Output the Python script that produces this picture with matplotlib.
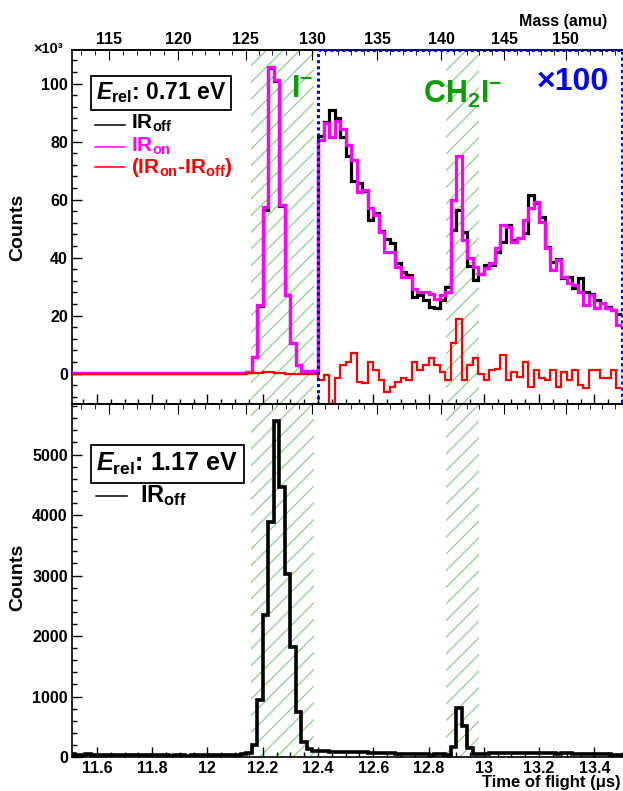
"""
Two-panel ToF mass spectrum (ROOT-style look), E_rel = 0.71 eV and 1.17 eV.
Top panel right of 12.40 us is shown x100.
"""

import matplotlib
matplotlib.use("Agg")
import matplotlib.pyplot as plt
import matplotlib.transforms as mtransforms
from matplotlib.lines import Line2D
from matplotlib.patches import Rectangle
from matplotlib.ticker import MultipleLocator, FuncFormatter
import numpy as np

plt.rcParams["font.family"] = ["Liberation Sans", "DejaVu Sans"]
plt.rcParams["font.weight"] = "bold"
plt.rcParams["mathtext.fontset"] = "custom"
plt.rcParams["mathtext.rm"] = "Liberation Sans:bold"
plt.rcParams["mathtext.it"] = "Liberation Sans:italic:bold"
plt.rcParams["mathtext.bf"] = "Liberation Sans:bold"
plt.rcParams["hatch.linewidth"] = 0.9

W, H = 623, 791

BLACK   = "#000000"
MAGENTA = "#ff00ff"
RED     = "#ff0000"
BLUE    = "#0000ff"
GREEN   = "#0a9e0a"
HATCH   = "#8ad08a"

# ── data ──────────────────────────────────────────────────────
T_START   = 11.50   # first bin edge (us)
BIN_WIDTH = 0.02    # us
N_BINS    = 100
SPLIT_T   = 12.40   # top panel: bins from here on are drawn x100
SCALE     = 100
MASS_K    = 1.0857  # t = k * sqrt(m)

# gates (us)
gate_i    = (12.158, 12.385)
gate_ch2i = (12.863, 12.981)

# top panel, E_rel = 0.71 eV, raw counts per bin (11.50 -> 13.50 us)
ir_off_071 = [
    30, 28, 25, 30, 27, 25, 28, 30, 26, 24, 28, 25, 27, 30, 26, 25,
    28, 24, 26, 30, 27, 25, 28, 26, 24, 27, 25, 28, 30, 32, 35, 40,
    500, 5600, 23300, 56500, 105400, 100900, 57900, 27000, 10400, 2900, 1000, 950, 900,
    820, 868, 909, 882, 817, 750, 664, 658, 630, 530, 555, 490, 465, 450, 380, 350,
    340, 265, 270, 253, 228, 225, 255, 300, 494, 564, 488, 370, 322, 345, 376, 376,
    420, 455, 512, 460, 466, 485, 616, 590, 540, 437, 385, 395, 328, 334, 294, 328,
    282, 276, 255, 242, 231, 219, 207,
]
ir_on_071 = [
    30, 27, 26, 29, 28, 25, 27, 31, 25, 25, 27, 26, 28, 29, 25, 26,
    27, 25, 25, 31, 26, 26, 27, 27, 25, 26, 26, 27, 31, 33, 36, 42,
    600, 5800, 23600, 57500, 105800, 101200, 58000, 27000, 10400, 2900, 1000, 950, 900,
    805, 863, 817, 871, 845, 788, 736, 627, 633, 572, 547, 489, 420, 420, 368, 334,
    334, 291, 282, 282, 276, 257, 271, 282, 598, 751, 460, 397, 368, 345, 363, 380,
    432, 512, 506, 455, 466, 529, 570, 592, 524, 432, 357, 391, 334, 311, 305, 282,
    236, 271, 225, 245, 225, 218, 167,
]
diff_071 = [
    0, 0, 0, 0, 0, 0, 0, 0, 0, 0, 0, 0, 0, 0, 0, 0,
    0, 0, 0, 0, 0, 0, 0, 0, 0, 0, 0, 0, 0, 0, 0, 0,
    100, 200, 300, 500, 400, 300, 100, 0, 0, 0, 0, 0, 0,
    -22, -5, -120, -17, 29, 41, 70, -28, -34, 41, 12, -22, -63, -46, -28, -17,
    -22, 41, 12, 29, 52, 29, 6, -22, 104, 187, -22, 29, 52, 0, -22, 12,
    17, 64, -22, 6, -11, 41, -46, 12, -17, -22, 12, -46, 6, -22, 12, -40,
    -51, 12, 12, -17, -17, 12, -51,
]

# bottom panel, E_rel = 1.17 eV, IR off
ir_off_117 = [
    45, 40, 38, 42, 35, 30, 33, 28, 35, 30, 25, 30, 28, 32, 26, 30,
    25, 28, 24, 30, 26, 22, 28, 25, 30, 26, 28, 25, 30, 35, 40, 48,
    60, 198, 942, 2347, 3890, 5559, 4457, 3025, 1813, 749, 253, 127, 100,
    95, 92, 90, 88, 85, 88, 80, 75, 78, 70, 65, 60, 62, 58, 55, 50,
    48, 52, 45, 42, 40, 45, 42, 40, 170, 805, 512, 143,
    45, 50, 55, 58, 60, 62, 60, 65, 62, 60, 58, 62, 65, 60, 58, 55,
    60, 58, 55, 52, 55, 50, 48, 45, 42, 40, 38,
]

mass_ticks = [115, 120, 125, 130, 135, 140, 145, 150]


def px(x, y):
    return x / W, 1 - y / H


def t2m(t):
    return (np.asarray(t, dtype=float) / MASS_K) ** 2


def m2t(m):
    return MASS_K * np.sqrt(np.clip(np.asarray(m, dtype=float), 0, None))


def style_axes(ax, ymajor, yminor, labelbottom):
    ax.set_xlim(11.51, 13.50)
    ax.xaxis.set_major_locator(MultipleLocator(0.2))
    ax.xaxis.set_minor_locator(MultipleLocator(0.05))
    ax.yaxis.set_major_locator(MultipleLocator(ymajor))
    ax.yaxis.set_minor_locator(MultipleLocator(yminor))
    ax.tick_params(which="both", direction="in", top=False, right=False,
                   labelsize=11.5, width=1.0, colors=BLACK)
    ax.tick_params(which="major", length=7, pad=3)
    ax.tick_params(which="minor", length=3.5)
    ax.tick_params(axis="x", labelbottom=labelbottom, pad=3)
    ax.xaxis.set_major_formatter(FuncFormatter(lambda v, p: f"{v:g}"))
    ax.spines["right"].set_visible(False)
    for s in ("left", "bottom", "top"):
        ax.spines[s].set_linewidth(1.2)

    sec = ax.secondary_xaxis("top", functions=(t2m, m2t))
    sec.set_xticks(mass_ticks)
    sec.xaxis.set_minor_locator(MultipleLocator(1))
    sec.tick_params(which="both", direction="in", labelsize=11.5, pad=2.5)
    sec.tick_params(which="major", length=7)
    sec.tick_params(which="minor", length=3.5)
    sec.spines["top"].set_linewidth(1.2)
    return sec


def gates(ax):
    for lo, hi in (gate_i, gate_ch2i):
        ax.axvspan(lo, hi, facecolor="none", edgecolor=HATCH, hatch="//",
                   linewidth=0, zorder=0)


def bold_ticks(*axes):
    for a in axes:
        for lab in a.get_xticklabels() + a.get_yticklabels():
            lab.set_fontweight("bold")


def make_figure():
    fig = plt.figure(figsize=(W / 100, H / 100), dpi=100, facecolor="white")
    edges = T_START + BIN_WIDTH * np.arange(N_BINS + 1)
    scale = np.where(edges[:-1] >= SPLIT_T - 1e-9, SCALE, 1)

    # ── top panel ─────────────────────────────────────────────
    ax1 = fig.add_axes([72 / W, 1 - 404 / H, 550 / W, 354 / H])
    gates(ax1)
    ax1.stairs(np.array(ir_off_071) * scale, edges, baseline=None,
               color=BLACK, lw=2.3, zorder=2)
    ax1.stairs(np.array(ir_on_071) * scale, edges, baseline=None,
               color=MAGENTA, lw=2.3, zorder=3)
    ax1.stairs(np.array(diff_071) * scale, edges, baseline=None,
               color=RED, lw=1.6, zorder=4)
    ax1.set_ylim(-10500, 111600)
    sec1 = style_axes(ax1, 20000, 4000, labelbottom=False)
    ax1.yaxis.set_major_formatter(FuncFormatter(lambda v, p: f"{v / 1000:g}"))
    bold_ticks(ax1, sec1)

    # x100 box
    trans = mtransforms.blended_transform_factory(ax1.transData, ax1.transAxes)
    ax1.add_patch(Rectangle((SPLIT_T, 0), 13.50 - SPLIT_T, 1, transform=trans,
                            fill=False, edgecolor=BLUE, linewidth=2.2,
                            linestyle=(0, (1, 1)), clip_on=False, zorder=6))

    # ── bottom panel ──────────────────────────────────────────
    ax2 = fig.add_axes([72 / W, 1 - 757 / H, 550 / W, 353 / H])
    gates(ax2)
    ax2.stairs(ir_off_117, edges, baseline=None, color=BLACK, lw=2.6, zorder=2)
    ax2.set_ylim(0, 5835)
    sec2 = style_axes(ax2, 1000, 200, labelbottom=True)
    sec2.tick_params(labeltop=False)
    ax2.yaxis.set_major_formatter(FuncFormatter(lambda v, p: f"{v:g}"))
    bold_ticks(ax2)

    # ── labels ────────────────────────────────────────────────
    fig.text(*px(18, 227), "Counts", rotation=90, ha="center", va="center",
             fontsize=14)
    fig.text(*px(18, 577), "Counts", rotation=90, ha="center", va="center",
             fontsize=14)
    fig.text(*px(48, 49), "×10³", ha="center", va="center", fontsize=10.5)
    fig.text(*px(607, 26), "Mass (amu)", ha="right", va="baseline",
             fontsize=11.5)
    fig.text(*px(621, 787), "Time of flight (μs)", ha="right", va="baseline",
             fontsize=12)

    # peak tags
    fig.text(*px(291, 97), r"I$^{-}$", ha="left", va="baseline",
             fontsize=22, color=GREEN)
    fig.text(*px(423, 103), r"CH$_{2}$I$^{-}$", ha="left", va="baseline",
             fontsize=22, color=GREEN)
    fig.text(*px(537, 90), "×100", ha="left", va="baseline",
             fontsize=23, color=BLUE)

    # ── legends ───────────────────────────────────────────────
    box = dict(boxstyle="square,pad=0.22", facecolor="white",
               edgecolor=BLACK, linewidth=1.3)
    fig.text(*px(96, 93), r"$E_{\mathrm{rel}}$: 0.71 eV", ha="left",
             va="center", fontsize=16.5, bbox=box)
    fig.text(*px(96, 464), r"$E_{\mathrm{rel}}$: 1.17 eV", ha="left",
             va="center", fontsize=18, bbox=box)

    entries_top = [
        (125, 129, BLACK, r"IR$_{\mathrm{off}}$"),
        (147, 152, MAGENTA, r"IR$_{\mathrm{on}}$"),
        (167, 173, RED, r"(IR$_{\mathrm{on}}$-IR$_{\mathrm{off}}$)"),
    ]
    for y_line, y_text, col, label in entries_top:
        x0, y0 = px(95, y_line)
        x1, _ = px(125, y_line)
        fig.add_artist(Line2D([x0, x1], [y0, y0], color=col, lw=1.1))
        fig.text(*px(131, y_text), label, ha="left", va="baseline",
                 fontsize=15, color=col)

    x0, y0 = px(96, 496)
    x1, _ = px(127, 496)
    fig.add_artist(Line2D([x0, x1], [y0, y0], color=BLACK, lw=1.1))
    fig.text(*px(140, 502), r"IR$_{\mathrm{off}}$", ha="left", va="baseline",
             fontsize=17, color=BLACK)

    fig.savefig("out.png", dpi=100, facecolor="white")
    plt.close(fig)


if __name__ == "__main__":
    make_figure()
